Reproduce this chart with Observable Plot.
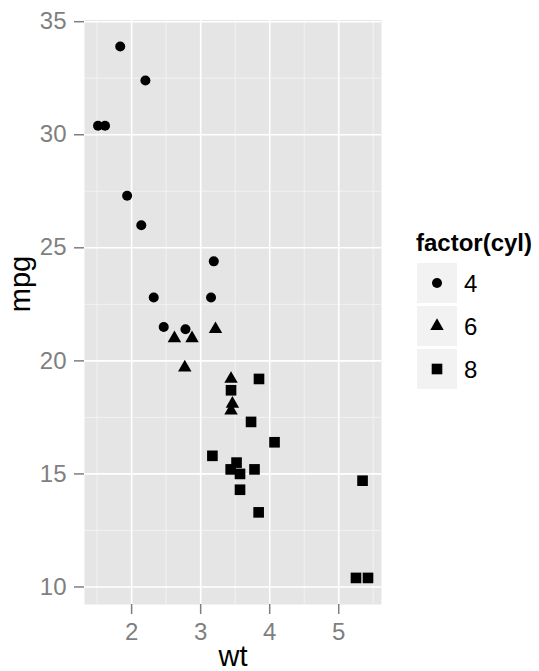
<!DOCTYPE html>
<html>
<head>
<meta charset="utf-8">
<script src="https://cdn.jsdelivr.net/npm/d3@7"></script>
<script src="https://cdn.jsdelivr.net/npm/@observablehq/plot@0.6"></script>
<style>
  html, body { margin: 0; padding: 0; background: #fff; }
  #wrap { position: relative; width: 539px; height: 671px; font-family: "Liberation Sans", Arial, sans-serif; }
  #legend { position: absolute; left: 0; top: 0; }
</style>
</head>
<body>
<div id="wrap"></div>
<script>
// mtcars: weight (1000 lbs), miles per gallon, cylinders
const wt  = [2.620, 2.875, 2.320, 3.215, 3.440, 3.460, 3.570, 3.190, 3.150, 3.440, 3.440, 4.070, 3.730, 3.780, 5.250, 5.424, 5.345, 2.200, 1.615, 1.835, 2.465, 3.520, 3.435, 3.840, 3.845, 1.935, 2.140, 1.513, 3.170, 2.770, 3.570, 2.780];
const mpg = [21.0, 21.0, 22.8, 21.4, 18.7, 18.1, 14.3, 24.4, 22.8, 19.2, 17.8, 16.4, 17.3, 15.2, 10.4, 10.4, 14.7, 32.4, 30.4, 33.9, 21.5, 15.5, 15.2, 13.3, 19.2, 27.3, 26.0, 30.4, 15.8, 19.7, 15.0, 21.4];
const cyl = ["6", "6", "4", "6", "8", "6", "8", "4", "4", "6", "6", "8", "8", "8", "8", "8", "8", "4", "4", "4", "4", "8", "8", "8", "8", "4", "4", "4", "8", "6", "8", "4"];

const cylLevels = ["4", "6", "8"];
const xTicks = [2, 3, 4, 5];
const yTicks = [10, 15, 20, 25, 30, 35];
const xMinor = [1.5, 2.5, 3.5, 4.5, 5.5];
const yMinor = [12.5, 17.5, 22.5, 27.5, 32.5];

const data = wt.map((w, i) => ({wt: w, mpg: mpg[i], cyl: cyl[i]}));

const symbols = ["circle", "triangle", "square"];
const sizeFor = c => (c === "8" ? 6 : 5);

const xExt = d3.extent(wt), yExt = d3.extent(mpg);
const xPad = (xExt[1] - xExt[0]) * 0.05, yPad = (yExt[1] - yExt[0]) * 0.05;

const FONT = "'Liberation Sans', Arial, sans-serif";
const GREY = "#7f7f7f";

const chart = Plot.plot({
  width: 539,
  height: 671,
  marginLeft: 84,
  marginRight: 158,
  marginTop: 19.5,
  marginBottom: 67,
  style: {fontFamily: FONT, background: "white"},
  x: {domain: [xExt[0] - xPad, xExt[1] + xPad]},
  y: {domain: [yExt[0] - yPad, yExt[1] + yPad]},
  symbol: {domain: cylLevels, range: symbols},
  r: {type: "identity"},
  marks: [
    Plot.frame({fill: "#e5e5e5", stroke: "none"}),
    Plot.ruleX(xMinor, {stroke: "#f2f2f2", strokeWidth: 1}),
    Plot.ruleY(yMinor, {stroke: "#f2f2f2", strokeWidth: 1}),
    Plot.ruleX(xTicks, {stroke: "#ffffff", strokeWidth: 1.6}),
    Plot.ruleY(yTicks, {stroke: "#ffffff", strokeWidth: 1.6}),
    Plot.dot(data, {x: "wt", y: "mpg", symbol: "cyl", r: d => sizeFor(d.cyl), fill: "black", stroke: "none"}),
    Plot.axisX({ticks: xTicks, tickFormat: d3.format("d"), tickSize: 10, tickPadding: 8, fontSize: 24, color: GREY, stroke: GREY, strokeWidth: 1.5, label: null}),
    Plot.axisY({ticks: yTicks, tickFormat: d3.format("d"), tickSize: 10, tickPadding: 8, fontSize: 24, color: GREY, stroke: GREY, strokeWidth: 1.5, label: null}),
    Plot.text(["wt"], {frameAnchor: "bottom", dy: 52, fontSize: 29, fill: "black", lineAnchor: "middle"}),
    Plot.text(["mpg"], {frameAnchor: "left", dx: -64, rotate: -90, fontSize: 29, fill: "black", lineAnchor: "middle"})
  ]
});

d3.select(chart).selectAll("g[aria-label='x-axis tick label'] text, g[aria-label='y-axis tick label'] text").attr("fill", GREY);

const wrap = document.getElementById("wrap");
wrap.appendChild(chart);

// legend
const lg = d3.select(wrap).append("svg")
  .attr("id", "legend")
  .attr("width", 539).attr("height", 671)
  .style("font-family", FONT);

lg.append("text")
  .attr("x", 416).attr("y", 251)
  .attr("font-size", 24).attr("font-weight", "bold")
  .text("factor(cyl)");

const symMap = {circle: d3.symbolCircle, triangle: d3.symbolTriangle, square: d3.symbolSquare};
cylLevels.forEach((c, i) => {
  const top = 263 + i * 43;
  lg.append("rect").attr("x", 417).attr("y", top).attr("width", 40).attr("height", 40).attr("fill", "#f2f2f2");
  const r = sizeFor(c);
  lg.append("path")
    .attr("transform", `translate(437,${top + 20})`)
    .attr("d", d3.symbol(symMap[symbols[i]], Math.PI * r * r)())
    .attr("fill", "black");
  lg.append("text")
    .attr("x", 464).attr("y", top + 20)
    .attr("dy", "0.36em")
    .attr("font-size", 24)
    .text(c);
});
</script>
</body>
</html>
